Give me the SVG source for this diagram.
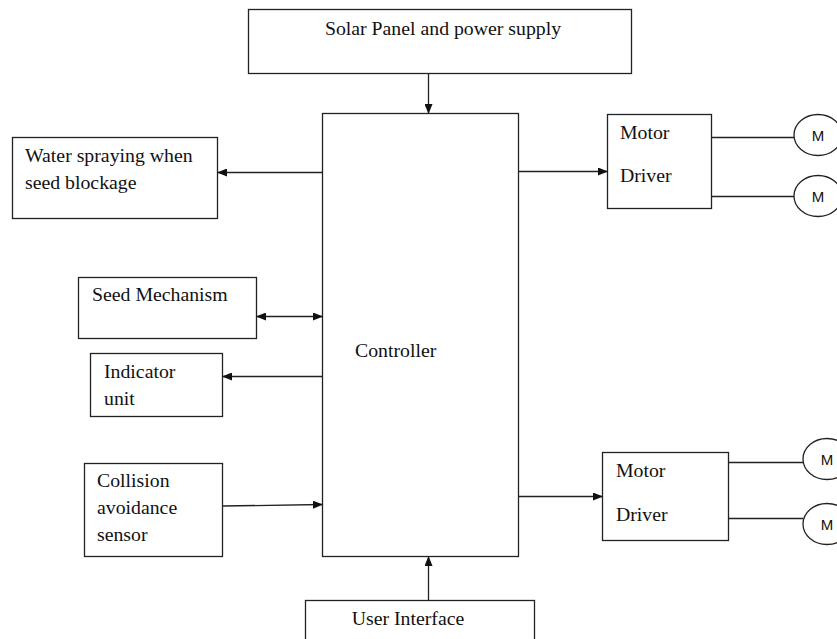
<svg xmlns="http://www.w3.org/2000/svg" width="837" height="639" viewBox="0 0 837 639">
<style>
.box{fill:#fff;stroke:#222;stroke-width:1.3}
.t{font-family:"Liberation Serif","Times New Roman",serif;font-size:19.8px;fill:#111}
.m{font-family:"Liberation Sans",sans-serif;font-size:15px;fill:#111}
.c{stroke:#222;stroke-width:1.3;fill:none}
</style>
<defs>
<marker id="ah" markerWidth="10" markerHeight="8" refX="9" refY="4" orient="auto-start-reverse" markerUnits="userSpaceOnUse">
<path d="M0,0 L10,4 L0,8 z" fill="#111"/>
</marker>
</defs>
<rect width="837" height="639" fill="#fff"/>
<g id="solar"><rect class="box" x="248.5" y="9.5" width="383" height="64"/><text class="t" x="443" y="35" text-anchor="middle">Solar Panel and power supply</text></g>
<g id="controller"><rect class="box" x="322.5" y="113.5" width="196" height="443"/><text class="t" x="355" y="357">Controller</text></g>
<g id="water"><rect class="box" x="12.5" y="137.5" width="205" height="81"/><text class="t" x="25" y="162">Water spraying  when</text><text class="t" x="25" y="189">seed blockage</text></g>
<g id="seed"><rect class="box" x="78.5" y="277.5" width="178" height="61"/><text class="t" x="92" y="301">Seed Mechanism</text></g>
<g id="indicator"><rect class="box" x="90.5" y="353.5" width="132" height="63"/><text class="t" x="104" y="378">Indicator</text><text class="t" x="104" y="405">unit</text></g>
<g id="collision"><rect class="box" x="84.5" y="463.5" width="138" height="93"/><text class="t" x="97" y="487">Collision</text><text class="t" x="97" y="514">avoidance</text><text class="t" x="97" y="541">sensor</text></g>
<g id="ui"><rect class="box" x="305.5" y="600.5" width="229" height="50"/><text class="t" x="408" y="625" text-anchor="middle">User Interface</text></g>
<g id="driver1"><rect class="box" x="607.5" y="114.5" width="104" height="94"/><text class="t" x="620" y="139">Motor</text><text class="t" x="620" y="182">Driver</text></g>
<g id="driver2"><rect class="box" x="602.5" y="452.5" width="126" height="88"/><text class="t" x="616" y="477">Motor</text><text class="t" x="616" y="521">Driver</text></g>
<g id="m1"><ellipse class="box" cx="818" cy="135" rx="24" ry="20.5"/><text class="m" x="818" y="140.5" text-anchor="middle">M</text></g>
<g id="m2"><ellipse class="box" cx="818" cy="196" rx="24" ry="20.5"/><text class="m" x="818" y="201.5" text-anchor="middle">M</text></g>
<g id="m3"><ellipse class="box" cx="827" cy="459" rx="24" ry="20.5"/><text class="m" x="827" y="464.5" text-anchor="middle">M</text></g>
<g id="m4"><ellipse class="box" cx="827" cy="524" rx="24" ry="20.5"/><text class="m" x="827" y="529.5" text-anchor="middle">M</text></g>
<g id="connectors">
<line class="c" x1="428.5" y1="73" x2="428.5" y2="113" marker-end="url(#ah)"/>
<line class="c" x1="322" y1="172.5" x2="218" y2="172.5" marker-end="url(#ah)"/>
<line class="c" x1="257" y1="316.5" x2="322" y2="316.5" marker-start="url(#ah)" marker-end="url(#ah)"/>
<line class="c" x1="322" y1="376.5" x2="223" y2="376.5" marker-end="url(#ah)"/>
<line class="c" x1="223" y1="506" x2="322" y2="504.5" marker-end="url(#ah)"/>
<line class="c" x1="428.5" y1="600" x2="428.5" y2="557" marker-end="url(#ah)"/>
<line class="c" x1="519" y1="171.5" x2="607" y2="171.5" marker-end="url(#ah)"/>
<line class="c" x1="519" y1="496.5" x2="602" y2="496.5" marker-end="url(#ah)"/>
<line class="c" x1="712" y1="137.5" x2="794" y2="137.5"/>
<line class="c" x1="712" y1="196.5" x2="794" y2="196.5"/>
<line class="c" x1="729" y1="462.5" x2="803" y2="462.5"/>
<line class="c" x1="729" y1="518.5" x2="803" y2="518.5"/>
</g>
</svg>
